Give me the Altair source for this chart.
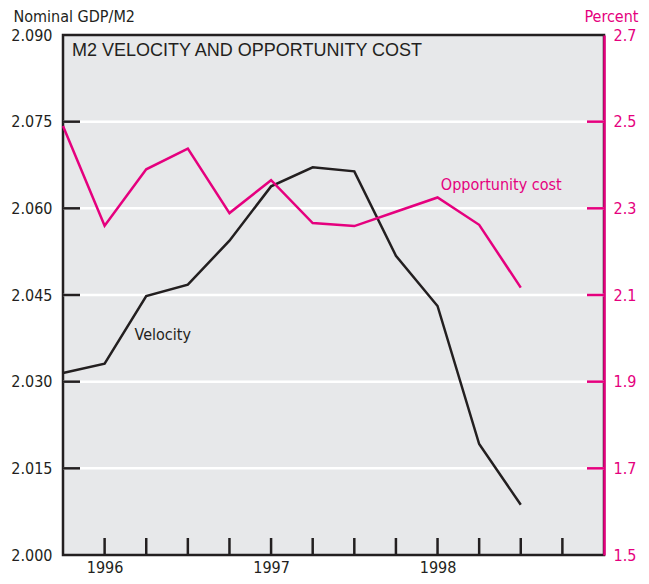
import altair as alt
import pandas as pd

# ---- data ----
quarters = [1995.75, 1996.0, 1996.25, 1996.5, 1996.75, 1997.0, 1997.25,
            1997.5, 1997.75, 1998.0, 1998.25, 1998.5]
velocity = [2.0315, 2.0331, 2.0448, 2.0468, 2.0544, 2.0638, 2.0671,
            2.0664, 2.0518, 2.0431, 2.0192, 2.0087]
opp_cost = [2.490, 2.260, 2.390, 2.438, 2.289, 2.365, 2.266,
            2.259, 2.292, 2.325, 2.262, 2.117]

left_ticks = [2.000, 2.015, 2.030, 2.045, 2.060, 2.075, 2.090]
right_ticks = [1.5, 1.7, 1.9, 2.1, 2.3, 2.5, 2.7]
grid_vals = [2.015, 2.030, 2.045, 2.060, 2.075]
right_inner = [1.7, 1.9, 2.1, 2.3, 2.5]
x_ticks = [1996.0, 1996.25, 1996.5, 1996.75, 1997.0, 1997.25, 1997.5,
           1997.75, 1998.0, 1998.25, 1998.5, 1998.75]
year_labels = [1996, 1997, 1998]

title_text = "M2 VELOCITY AND OPPORTUNITY COST"
left_title = "Nominal GDP/M2"
right_title = "Percent"

W, H = 541, 520
DARK = "#231F20"
PINK = "#E5007E"
BG = "#E7E8EA"
FONT = "DejaVu Sans Condensed, sans-serif"
TFONT = "Liberation Sans, Arial, sans-serif"
FS = 16

df = pd.DataFrame({"q": quarters, "vel": velocity, "opp": opp_cost})

xs = alt.Scale(domain=[1995.75, 1999.0], nice=False, zero=False)
yl = alt.Scale(domain=[2.0, 2.09], nice=False, zero=False)
yr = alt.Scale(domain=[1.5, 2.7], nice=False, zero=False)

x_axis = alt.Axis(values=year_labels, format="d", ticks=False, domain=False,
                  grid=False, labelFont=FONT, labelFontSize=FS,
                  labelColor=DARK, labelPadding=4, title=None, orient="bottom")

left_axis = alt.Axis(values=left_ticks, format=".3f", ticks=False, domain=False,
                     grid=False, labelFont=FONT, labelFontSize=FS,
                     labelColor=DARK, labelPadding=11,
                     title=left_title, titleAngle=0, titleAlign="left",
                     titleBaseline="alphabetic", titleX=-50, titleY=-14,
                     titleFont=FONT, titleFontSize=FS, titleFontWeight="normal",
                     titleColor=DARK, orient="left")

right_axis = alt.Axis(values=right_ticks, format=".1f", ticks=False, domain=True,
                      domainColor=PINK, domainWidth=2.5, grid=False,
                      labelFont=FONT, labelFontSize=FS, labelColor=PINK,
                      labelPadding=9,
                      title=right_title, titleAngle=0, titleAlign="right",
                      titleBaseline="alphabetic", titleX=34, titleY=-14,
                      titleFont=FONT, titleFontSize=FS, titleFontWeight="normal",
                      titleColor=PINK, orient="right")

base = alt.Chart(df)

# left-scale group
vel_line = base.mark_line(color=DARK, strokeWidth=2.5).encode(
    x=alt.X("q:Q", scale=xs, axis=x_axis),
    y=alt.Y("vel:Q", scale=yl, axis=left_axis))

grid = alt.Chart(pd.DataFrame({"g": grid_vals})).mark_rule(
    color="white", strokeWidth=2.5).encode(
    y=alt.Y("g:Q", scale=yl, axis=left_axis))

lticks = alt.Chart(pd.DataFrame({"g": grid_vals})).mark_rule(
    color=DARK, strokeWidth=2.5).encode(
    y=alt.Y("g:Q", scale=yl, axis=left_axis),
    x=alt.value(0), x2=alt.value(17))

bticks = alt.Chart(pd.DataFrame({"t": x_ticks})).mark_rule(
    color=DARK, strokeWidth=2.5).encode(
    x=alt.X("t:Q", scale=xs, axis=x_axis),
    y=alt.value(H - 17), y2=alt.value(H))

vel_label = alt.Chart(pd.DataFrame({"x": [1996.18], "y": [2.0372],
                                    "t": ["Velocity"]})).mark_text(
    align="left", baseline="alphabetic", font=FONT, fontSize=FS,
    color=DARK).encode(
    x=alt.X("x:Q", scale=xs, axis=x_axis),
    y=alt.Y("y:Q", scale=yl, axis=left_axis), text="t:N")

title_mark = alt.Chart(pd.DataFrame({"t": [title_text]})).mark_text(
    align="left", baseline="alphabetic", font=TFONT, fontSize=18,
    color=DARK).encode(x=alt.value(9), y=alt.value(21), text="t:N")

left_group = alt.layer(grid, lticks, bticks, vel_line, vel_label, title_mark)

# right-scale group
opp_line = base.mark_line(color=PINK, strokeWidth=2.5).encode(
    x=alt.X("q:Q", scale=xs, axis=x_axis),
    y=alt.Y("opp:Q", scale=yr, axis=right_axis))

rticks = alt.Chart(pd.DataFrame({"g": right_inner})).mark_rule(
    color=PINK, strokeWidth=2.5).encode(
    y=alt.Y("g:Q", scale=yr, axis=right_axis),
    x=alt.value(W - 17), x2=alt.value(W))

opp_label = alt.Chart(pd.DataFrame({"x": [1998.02], "y": [2.343],
                                    "t": ["Opportunity cost"]})).mark_text(
    align="left", baseline="alphabetic", font=FONT, fontSize=FS,
    color=PINK).encode(
    x=alt.X("x:Q", scale=xs, axis=x_axis),
    y=alt.Y("y:Q", scale=yr, axis=right_axis), text="t:N")

right_group = alt.layer(rticks, opp_line, opp_label)

chart = alt.layer(left_group, right_group).resolve_scale(
    y="independent").properties(
    width=W, height=H,
    autosize=alt.AutoSizeParams(type="none"),
    padding={"left": 55, "top": 27, "right": 37, "bottom": 21},
    background="white",
).configure_view(fill=BG, stroke=DARK, strokeWidth=2.5)

chart.save("out.html", embed_options={"renderer": "svg", "actions": False})
